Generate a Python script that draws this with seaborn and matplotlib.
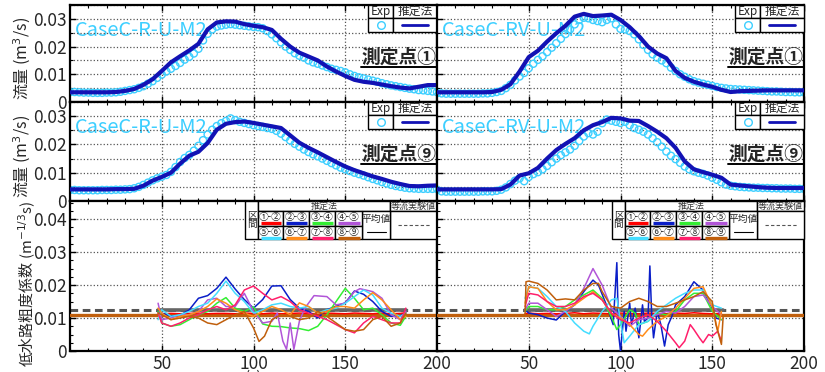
import numpy as np
import matplotlib
matplotlib.use("Agg")
import matplotlib.pyplot as plt
import seaborn as sns
from matplotlib.patches import Rectangle
from matplotlib.ticker import MultipleLocator, FixedLocator, FixedFormatter

# ---- data: discharge (m3/s), Exp every 2.5 s, estimate every 5 s ----
t_exp = np.arange(0, 200.1, 2.5)
t_est = np.arange(0, 200.1, 5)

exp_r_1 = [0.0036, 0.0036, 0.0035, 0.0034, 0.0034, 0.0033, 0.0033, 0.0033, 0.0034, 0.0034,
           0.0035, 0.0037, 0.0040, 0.0043, 0.0046, 0.0051, 0.0057, 0.0066, 0.0075, 0.0087,
           0.0099, 0.0110, 0.0120, 0.0130, 0.0141, 0.0153, 0.0163, 0.0175, 0.0192, 0.0222,
           0.0246, 0.0262, 0.0272, 0.0276, 0.0279, 0.0281, 0.0279, 0.0277, 0.0275, 0.0273,
           0.0271, 0.0270, 0.0266, 0.0256, 0.0244, 0.0230, 0.0215, 0.0200, 0.0188, 0.0176,
           0.0167, 0.0160, 0.0150, 0.0143, 0.0138, 0.0132, 0.0126, 0.0120, 0.0116, 0.0112,
           0.0107, 0.0100, 0.0094, 0.0089, 0.0085, 0.0081, 0.0077, 0.0073, 0.0068, 0.0064,
           0.0060, 0.0057, 0.0054, 0.0051, 0.0048, 0.0046, 0.0043, 0.0042, 0.0040, 0.0038,
           0.0036]
est_r_1 = [0.0035, 0.0035, 0.0035, 0.0035, 0.0035, 0.0036, 0.0040, 0.0047, 0.0062, 0.0082,
           0.0112, 0.0143, 0.0165, 0.0186, 0.0210, 0.0262, 0.0287, 0.0291, 0.0290, 0.0281,
           0.0275, 0.0270, 0.0260, 0.0228, 0.0200, 0.0178, 0.0164, 0.0150, 0.0128, 0.0110,
           0.0094, 0.0080, 0.0073, 0.0069, 0.0063, 0.0057, 0.0052, 0.0049, 0.0055, 0.0061,
           0.0061]

exp_r_9 = [0.0039, 0.0039, 0.0038, 0.0038, 0.0038, 0.0038, 0.0038, 0.0039, 0.0039, 0.0039,
           0.0040, 0.0040, 0.0041, 0.0042, 0.0045, 0.0050, 0.0057, 0.0065, 0.0073, 0.0080,
           0.0086, 0.0092, 0.0103, 0.0120, 0.0138, 0.0152, 0.0163, 0.0178, 0.0195, 0.0215,
           0.0235, 0.0252, 0.0265, 0.0275, 0.0283, 0.0292, 0.0286, 0.0280, 0.0276, 0.0272,
           0.0268, 0.0265, 0.0262, 0.0258, 0.0255, 0.0248, 0.0238, 0.0226, 0.0214, 0.0202,
           0.0192, 0.0182, 0.0173, 0.0165, 0.0158, 0.0150, 0.0142, 0.0134, 0.0126, 0.0118,
           0.0112, 0.0106, 0.0100, 0.0095, 0.0090, 0.0084, 0.0078, 0.0073, 0.0067, 0.0062,
           0.0057, 0.0053, 0.0050, 0.0047, 0.0045, 0.0044, 0.0043, 0.0043, 0.0043, 0.0043,
           0.0043]
est_r_9 = [0.0041, 0.0041, 0.0041, 0.0041, 0.0041, 0.0042, 0.0042, 0.0043, 0.0054, 0.0072,
           0.0085, 0.0100, 0.0132, 0.0160, 0.0174, 0.0205, 0.0252, 0.0273, 0.0279, 0.0281,
           0.0276, 0.0270, 0.0264, 0.0258, 0.0232, 0.0206, 0.0188, 0.0172, 0.0155, 0.0138,
           0.0122, 0.0109, 0.0098, 0.0087, 0.0078, 0.0068, 0.0060, 0.0053, 0.0052, 0.0054,
           0.0055]

exp_rv_1 = [0.0032, 0.0031, 0.0030, 0.0030, 0.0030, 0.0030, 0.0030, 0.0030, 0.0030, 0.0030,
            0.0031, 0.0031, 0.0033, 0.0036, 0.0040, 0.0050, 0.0062, 0.0078, 0.0092, 0.0105,
            0.0122, 0.0138, 0.0152, 0.0165, 0.0180, 0.0196, 0.0212, 0.0228, 0.0245, 0.0262,
            0.0280, 0.0296, 0.0304, 0.0302, 0.0296, 0.0292, 0.0288, 0.0296, 0.0302, 0.0280,
            0.0264, 0.0262, 0.0256, 0.0244, 0.0226, 0.0206, 0.0188, 0.0172, 0.0160, 0.0150,
            0.0140, 0.0124, 0.0112, 0.0100, 0.0091, 0.0082, 0.0075, 0.0070, 0.0066, 0.0062,
            0.0058, 0.0054, 0.0051, 0.0049, 0.0047, 0.0046, 0.0045, 0.0044, 0.0043, 0.0042,
            0.0041, 0.0040, 0.0039, 0.0038, 0.0038, 0.0037, 0.0036, 0.0036, 0.0035, 0.0035,
            0.0035]
est_rv_1 = [0.0035, 0.0035, 0.0035, 0.0035, 0.0035, 0.0035, 0.0036, 0.0044, 0.0064, 0.0110,
            0.0162, 0.0185, 0.0218, 0.0248, 0.0275, 0.0308, 0.0318, 0.0310, 0.0312, 0.0315,
            0.0296, 0.0270, 0.0238, 0.0200, 0.0175, 0.0158, 0.0112, 0.0087, 0.0073, 0.0063,
            0.0055, 0.0044, 0.0036, 0.0039, 0.0040, 0.0041, 0.0042, 0.0042, 0.0042, 0.0042,
            0.0042]

exp_rv_9 = [0.0040, 0.0034, 0.0033, 0.0033, 0.0033, 0.0033, 0.0033, 0.0033, 0.0033, 0.0033,
            0.0034, 0.0034, 0.0034, 0.0036, 0.0040, 0.0048, 0.0060, 0.0072, 0.0080, 0.0070,
            0.0085, 0.0095, 0.0102, 0.0112, 0.0124, 0.0137, 0.0150, 0.0162, 0.0172, 0.0182,
            0.0195, 0.0212, 0.0228, 0.0240, 0.0235, 0.0245, 0.0275, 0.0288, 0.0284, 0.0280,
            0.0276, 0.0280, 0.0268, 0.0258, 0.0252, 0.0245, 0.0235, 0.0222, 0.0208, 0.0192,
            0.0175, 0.0160, 0.0148, 0.0135, 0.0122, 0.0112, 0.0105, 0.0100, 0.0096, 0.0090,
            0.0082, 0.0075, 0.0066, 0.0058, 0.0054, 0.0052, 0.0050, 0.0049, 0.0048, 0.0047,
            0.0047, 0.0046, 0.0046, 0.0045, 0.0045, 0.0044, 0.0044, 0.0044, 0.0043, 0.0043,
            0.0043]
est_rv_9 = [0.0041, 0.0041, 0.0041, 0.0041, 0.0041, 0.0041, 0.0041, 0.0042, 0.0058, 0.0090,
            0.0098, 0.0117, 0.0150, 0.0180, 0.0202, 0.0222, 0.0250, 0.0268, 0.0279, 0.0294,
            0.0292, 0.0284, 0.0283, 0.0265, 0.0245, 0.0222, 0.0188, 0.0140, 0.0112, 0.0102,
            0.0093, 0.0082, 0.0058, 0.0055, 0.0052, 0.0049, 0.0047, 0.0046, 0.0046, 0.0046,
            0.0046]

# ---- data: roughness coefficient per section ----
sections = ["①-②", "②-③", "③-④", "④-⑤", "⑤-⑥", "⑥-⑦", "⑦-⑧", "⑧-⑨"]
sec_colors = ["#ff0000", "#0a1ec8", "#33ee33", "#b155d8", "#44ddff", "#ff8c1a", "#ff1f6b", "#c05f0c"]

tl = [48, 50, 55, 60, 65, 70, 75, 80, 85, 90, 95, 100, 105, 110, 115, 120, 125, 130, 135, 140,
      145, 150, 155, 160, 165, 170, 175, 180, 183]
n_l_12 = [0.0116, 0.0113, 0.0114, 0.0113, 0.0114, 0.0115, 0.0113, 0.0114, 0.0114, 0.0113,
          0.0115, 0.0114, 0.0113, 0.0115, 0.0113, 0.0114, 0.0115, 0.0114, 0.0113, 0.0115,
          0.0114, 0.0113, 0.0115, 0.0114, 0.0113, 0.0115, 0.0113, 0.0114, 0.0116]
n_l_23 = [0.0120, 0.0115, 0.0106, 0.0108, 0.0125, 0.0160, 0.0168, 0.0190, 0.0224, 0.0188,
          0.0156, 0.0130, 0.0156, 0.0197, 0.0198, 0.0156, 0.0130, 0.0120, 0.0100, 0.0125,
          0.0136, 0.0146, 0.0182, 0.0172, 0.0150, 0.0120, 0.0105, 0.0107, 0.0115]
n_l_34 = [0.0120, 0.0085, 0.0075, 0.0080, 0.0095, 0.0110, 0.0120, 0.0145, 0.0162, 0.0130,
          0.0120, 0.0134, 0.0082, 0.0075, 0.0074, 0.0070, 0.0068, 0.0062, 0.0075, 0.0110,
          0.0150, 0.0190, 0.0160, 0.0125, 0.0130, 0.0110, 0.0085, 0.0078, 0.0105]
tl_45 = [48, 50, 55, 60, 65, 70, 75, 80, 85, 90, 95, 100, 105, 110, 113, 116, 118, 120, 122, 125,
         128, 133, 140, 145, 150, 155, 158, 165, 170, 175, 180, 183]
n_l_45 = [0.0145, 0.0095, 0.0100, 0.0110, 0.0110, 0.0120, 0.0155, 0.0160, 0.0135, 0.0135,
          0.0175, 0.0120, 0.0085, 0.0090, 0.0115, 0.0030, 0.0005, 0.0085, 0.0005, 0.0090,
          0.0130, 0.0168, 0.0165, 0.0140, 0.0145, 0.0180, 0.0189, 0.0180, 0.0160, 0.0110,
          0.0095, 0.0120]
n_l_56 = [0.0095, 0.0125, 0.0105, 0.0110, 0.0120, 0.0135, 0.0145, 0.0175, 0.0212, 0.0175,
          0.0150, 0.0115, 0.0125, 0.0140, 0.0145, 0.0135, 0.0130, 0.0135, 0.0115, 0.0125,
          0.0130, 0.0145, 0.0165, 0.0185, 0.0170, 0.0130, 0.0115, 0.0105, 0.0115]
n_l_67 = [0.0130, 0.0115, 0.0095, 0.0105, 0.0110, 0.0120, 0.0135, 0.0158, 0.0145, 0.0125,
          0.0115, 0.0105, 0.0120, 0.0135, 0.0125, 0.0110, 0.0146, 0.0135, 0.0115, 0.0120,
          0.0135, 0.0135, 0.0130, 0.0155, 0.0177, 0.0155, 0.0125, 0.0095, 0.0105]
n_l_78 = [0.0115, 0.0085, 0.0075, 0.0085, 0.0100, 0.0110, 0.0125, 0.0135, 0.0125, 0.0140,
          0.0185, 0.0197, 0.0175, 0.0155, 0.0165, 0.0150, 0.0125, 0.0115, 0.0105, 0.0095,
          0.0080, 0.0065, 0.0055, 0.0085, 0.0105, 0.0095, 0.0085, 0.0085, 0.0130]
tl_89 = [48, 50, 55, 60, 65, 70, 75, 80, 85, 90, 95, 100, 103, 106, 110, 115, 120, 125, 130, 135,
         140, 145, 150, 155, 160, 165, 170, 175, 180, 183]
n_l_89 = [0.0115, 0.0110, 0.0095, 0.0100, 0.0105, 0.0100, 0.0085, 0.0080, 0.0095, 0.0110,
          0.0120, 0.0070, 0.0029, 0.0045, 0.0095, 0.0110, 0.0105, 0.0095, 0.0100, 0.0120,
          0.0105, 0.0085, 0.0065, 0.0060, 0.0065, 0.0095, 0.0105, 0.0075, 0.0085, 0.0115]

tr = [48, 50, 55, 60, 65, 70, 75, 80, 85, 90, 95, 100, 105, 110, 115, 120, 125, 130, 135, 140,
      145, 150, 155]
n_r_12 = [0.0113, 0.0115, 0.0113, 0.0114, 0.0113, 0.0114, 0.0116, 0.0113, 0.0115, 0.0114,
          0.0113, 0.0115, 0.0114, 0.0113, 0.0115, 0.0114, 0.0113, 0.0115, 0.0114, 0.0116,
          0.0114, 0.0113, 0.0114]
tr_23 = [48, 50, 55, 60, 65, 70, 75, 80, 85, 88, 93, 96, 98, 99, 100, 102, 103, 105, 106, 108,
         110, 112, 113, 115, 116, 117, 118, 120, 122, 124, 126, 128, 130, 135, 140, 145, 150, 152, 155]
n_r_23 = [0.0125, 0.0115, 0.0110, 0.0100, 0.0094, 0.0120, 0.0140, 0.0180, 0.0215, 0.0200,
          0.0130, 0.0080, 0.0268, 0.0050, 0.0000, 0.0120, 0.0060, 0.0145, 0.0080, 0.0130,
          0.0040, 0.0140, 0.0090, 0.0100, 0.0258, 0.0110, 0.0040, 0.0120, 0.0080, 0.0015,
          0.0080, 0.0105, 0.0140, 0.0165, 0.0210, 0.0185, 0.0130, 0.0100, 0.0095]
tr_34 = [48, 50, 55, 60, 65, 70, 75, 80, 85, 90, 93, 95, 98, 100, 105, 108, 110, 115, 120, 125,
         130, 135, 140, 145, 150, 155]
n_r_34 = [0.0120, 0.0135, 0.0135, 0.0125, 0.0125, 0.0135, 0.0155, 0.0170, 0.0185, 0.0160,
          0.0125, 0.0105, 0.0065, 0.0080, 0.0125, 0.0115, 0.0080, 0.0090, 0.0115, 0.0110,
          0.0120, 0.0155, 0.0175, 0.0175, 0.0120, 0.0095]
n_r_45 = [0.0125, 0.0145, 0.0145, 0.0125, 0.0105, 0.0120, 0.0140, 0.0190, 0.0250, 0.0200,
          0.0130, 0.0105, 0.0075, 0.0095, 0.0100, 0.0110, 0.0120, 0.0115, 0.0135, 0.0165,
          0.0170, 0.0135, 0.0110]
tr_56 = [48, 50, 55, 60, 65, 70, 75, 80, 83, 85, 90, 95, 98, 100, 102, 105, 110, 115, 120, 125,
         130, 135, 140, 145, 150, 155]
n_r_56 = [0.0160, 0.0195, 0.0190, 0.0165, 0.0135, 0.0120, 0.0085, 0.0060, 0.0052, 0.0075,
          0.0120, 0.0155, 0.0160, 0.0090, 0.0025, 0.0045, 0.0080, 0.0090, 0.0120, 0.0140,
          0.0160, 0.0175, 0.0185, 0.0185, 0.0140, 0.0130]
tr_67 = [48, 50, 55, 60, 65, 70, 75, 80, 85, 90, 95, 100, 105, 110, 112, 115, 120, 125, 130, 135,
         140, 145, 150, 153, 155]
n_r_67 = [0.0145, 0.0195, 0.0190, 0.0150, 0.0125, 0.0125, 0.0140, 0.0160, 0.0180, 0.0155,
          0.0115, 0.0100, 0.0080, 0.0050, 0.0045, 0.0065, 0.0090, 0.0105, 0.0130, 0.0160,
          0.0190, 0.0195, 0.0135, 0.0060, 0.0120]
tr_78 = [48, 50, 55, 60, 65, 70, 75, 80, 85, 90, 95, 100, 105, 110, 115, 120, 125, 130, 132, 135,
         138, 140, 143, 145, 148, 150, 153, 155]
n_r_78 = [0.0135, 0.0175, 0.0170, 0.0150, 0.0135, 0.0135, 0.0145, 0.0165, 0.0175, 0.0155,
          0.0115, 0.0095, 0.0085, 0.0100, 0.0110, 0.0090, 0.0060, 0.0025, 0.0010, 0.0030,
          0.0080, 0.0065, 0.0040, 0.0025, 0.0050, 0.0045, 0.0060, 0.0030]
tr_89 = [48, 48.5, 50, 55, 60, 65, 70, 75, 80, 85, 88, 90, 95, 100, 105, 110, 115, 120, 125, 130,
         135, 140, 145, 150, 152, 155, 156]
n_r_89 = [0.0110, 0.0210, 0.0212, 0.0205, 0.0185, 0.0155, 0.0158, 0.0155, 0.0185, 0.0205,
          0.0205, 0.0180, 0.0135, 0.0130, 0.0150, 0.0160, 0.0150, 0.0135, 0.0135, 0.0145,
          0.0155, 0.0165, 0.0180, 0.0150, 0.0080, 0.0020, 0.0110]

n_uniform = 0.0124   # 等流実験値
n_mean = 0.0123
n_mean_89 = 0.0110

CYAN = "#3dcfff"
BLUE = "#1212b4"
W = 367.0  # axes width in px

sns.set_style("white")
plt.rcParams["font.family"] = ["Liberation Sans Narrow", "Noto Sans CJK JP", "DejaVu Sans"]
plt.rcParams["axes.unicode_minus"] = False

fig = plt.figure(figsize=(8.25, 3.72), dpi=100)
x_left, x_right, aw = 70 / 825, 437 / 825, 367 / 825
rows = [(1 - 102 / 372, 97 / 372, 97), (1 - 201 / 372, 99 / 372, 99), (1 - 351 / 372, 150 / 372, 150)]


def box(ax, x0, y0, x1, y1, h, lw=1.0):
    ax.add_patch(Rectangle((x0 / W, 1 - y1 / h), (x1 - x0) / W, (y1 - y0) / h,
                           transform=ax.transAxes, fc="white", ec="black", lw=lw,
                           zorder=5, clip_on=False))


def txt(ax, x, y, s, h, **kw):
    ax.text(x / W, 1 - y / h, s, transform=ax.transAxes, ha="center", va="center", zorder=6, **kw)


def seg(ax, x0, x1, y, h, **kw):
    ax.plot([x0 / W, x1 / W], [1 - y / h, 1 - y / h], transform=ax.transAxes,
            zorder=6, clip_on=False, **kw)


def style(ax, show_x, show_y, yticks, ylabels, minor_y, grid_minor):
    ax.set_xlim(0, 200)
    ax.xaxis.set_major_locator(FixedLocator([50, 100, 150, 200]))
    ax.xaxis.set_minor_locator(MultipleLocator(10))
    ax.yaxis.set_major_locator(FixedLocator(yticks))
    ax.yaxis.set_major_formatter(FixedFormatter(ylabels))
    ax.yaxis.set_minor_locator(MultipleLocator(minor_y))
    ax.tick_params(which="both", direction="in", top=True, bottom=True, left=True, right=False,
                   labelsize=12.5, pad=2, color="black")
    ax.tick_params(which="major", length=4, width=1)
    ax.tick_params(which="minor", length=2.5, width=0.8)
    ax.tick_params(axis="x", labelbottom=show_x, pad=3)
    ax.tick_params(axis="y", labelleft=show_y)
    ax.grid(True, which="major", color="#555555", ls=":", lw=0.9)
    if grid_minor:
        ax.grid(True, which="minor", axis="y", color="#555555", ls=":", lw=0.9)
    ax.set_axisbelow("line")
    for sp in ax.spines.values():
        sp.set_color("black")
        sp.set_linewidth(1.6)
    ax.set_xlabel("")
    ax.set_ylabel("")


def flow_panel(ax, h, q_exp, q_est, case, point, show_y):
    ax.set_ylim(0, 0.035)
    sns.scatterplot(x=t_exp, y=q_exp, ax=ax, marker="o", s=26, color=CYAN,
                    facecolors="none", edgecolor=CYAN, linewidth=1.0, zorder=2.5)
    sns.lineplot(x=t_est, y=q_est, ax=ax, color=BLUE, lw=3.0, zorder=3)
    style(ax, False, show_y, [0, 0.01, 0.02, 0.03], ["0", "0.01", "0.02", "0.03"], 0.005, True)
    ax.text(5 / W, 1 - 25.5 / h, case, transform=ax.transAxes, color=CYAN, fontsize=14.5,
            ha="left", va="center", zorder=1)
    ax.text(366 / W, 1 - 52 / h, point, transform=ax.transAxes, fontsize=13.5,
            fontweight="bold", ha="right", va="center", zorder=6,
            family=["Noto Sans CJK JP", "DejaVu Sans"])
    seg(ax, 291, 367, 61.5, h, color="black", lw=1.4)
    # small legend table
    box(ax, 298, 0, 323, 12.5, h)
    box(ax, 323, 0, 367, 12.5, h)
    box(ax, 298, 12.5, 323, 26.5, h)
    box(ax, 323, 12.5, 367, 26.5, h)
    txt(ax, 310.5, 6.5, "Exp", h, fontsize=8.5)
    txt(ax, 345, 6.5, "推定法", h, fontsize=8.5)
    ax.plot([310.5 / W], [1 - 19.5 / h], transform=ax.transAxes, marker="o", ms=5.5,
            mfc="none", mec=CYAN, mew=1.0, zorder=7, clip_on=False)
    seg(ax, 332, 358, 19.5, h, color=BLUE, lw=2.0)


def rough_panel(ax, h, series, t0, t1, show_y):
    ax.set_ylim(0, 0.0455)
    ax.axhline(n_uniform, color="#555555", lw=2.2, ls=(0, (2.5, 1.5)), zorder=2)
    sns.lineplot(x=[t0, t1], y=[n_mean, n_mean], ax=ax, color="#666666", lw=2.6, zorder=2.2)
    for (tt, vv), c in zip(series, sec_colors):
        sns.lineplot(x=tt, y=vv, ax=ax, color=c, lw=1.1, zorder=3)
    ax.axhline(n_mean_89, color=sec_colors[7], lw=2.4, zorder=2.9)
    style(ax, True, show_y, [0, 0.01, 0.02, 0.03, 0.04], ["0", "0.01", "0.02", "0.03", "0.04"],
          0.0025, False)
    # legend table
    fs = 7
    box(ax, 175, 0, 188, 38, h)
    box(ax, 188, 0, 320, 10, h)
    box(ax, 320, 0, 367, 10, h)
    box(ax, 320, 10, 367, 38, h)
    box(ax, 292, 10, 320, 38, h)
    txt(ax, 254, 5, "推定法", h, fontsize=6.5, color="#333333")
    txt(ax, 343.5, 5, "等流実験値", h, fontsize=6.5, color="#333333")
    txt(ax, 181.5, 15, "区", h, fontsize=fs)
    txt(ax, 181.5, 23, "間", h, fontsize=fs)
    cols = [188, 213, 239, 265, 292]
    for i in range(8):
        r, k = divmod(i, 4)
        x0, x1 = cols[k], cols[k + 1]
        y0 = 10 if r == 0 else 25
        box(ax, x0, y0, x1, y0 + (15 if r == 0 else 13), h)
        txt(ax, (x0 + x1) / 2, y0 + 5.5, sections[i], h, fontsize=fs)
        seg(ax, x0 + 2.5, x1 - 2.5, y0 + 11.5, h, color=sec_colors[i], lw=2.4, solid_capstyle="butt")
    txt(ax, 306, 18, "平均値", h, fontsize=fs)
    seg(ax, 297, 316, 31, h, color="black", lw=0.8)
    seg(ax, 328, 360, 24, h, color="#555555", lw=0.8, ls=(0, (3, 2)))


ax1 = fig.add_axes([x_left, rows[0][0], aw, rows[0][1]])
ax2 = fig.add_axes([x_right, rows[0][0], aw, rows[0][1]])
ax3 = fig.add_axes([x_left, rows[1][0], aw, rows[1][1]])
ax4 = fig.add_axes([x_right, rows[1][0], aw, rows[1][1]])
ax5 = fig.add_axes([x_left, rows[2][0], aw, rows[2][1]])
ax6 = fig.add_axes([x_right, rows[2][0], aw, rows[2][1]])

flow_panel(ax1, 97, exp_r_1, est_r_1, "CaseC-R-U-M2", "測定点①", True)
flow_panel(ax2, 97, exp_rv_1, est_rv_1, "CaseC-RV-U-M2", "測定点①", False)
flow_panel(ax3, 99, exp_r_9, est_r_9, "CaseC-R-U-M2", "測定点⑨", True)
flow_panel(ax4, 99, exp_rv_9, est_rv_9, "CaseC-RV-U-M2", "測定点⑨", False)

left_series = [(tl, n_l_12), (tl, n_l_23), (tl, n_l_34), (tl_45, n_l_45),
               (tl, n_l_56), (tl, n_l_67), (tl, n_l_78), (tl_89, n_l_89)]
right_series = [(tr, n_r_12), (tr_23, n_r_23), (tr_34, n_r_34), (tr, n_r_45),
                (tr_56, n_r_56), (tr_67, n_r_67), (tr_78, n_r_78), (tr_89, n_r_89)]
rough_panel(ax5, 150, left_series, 48, 183, True)
rough_panel(ax6, 150, right_series, 48, 156, False)

# y labels
fig.text(22 / 825, 1 - 58 / 372, "流量 (m$^3$/s)", rotation=90, ha="center", va="center", fontsize=11.5)
fig.text(22 / 825, 1 - 156 / 372, "流量 (m$^3$/s)", rotation=90, ha="center", va="center", fontsize=11.5)
fig.text(27 / 825, 1 - 284 / 372, "低水路粗度係数 (m$^{-1/3}$s)", rotation=90, ha="center",
         va="center", fontsize=10.8)
# x labels sit below the figure edge, only their tops show
fig.text(253.5 / 825, 2.5 / 372, "(s)", ha="center", va="top", fontsize=11)
fig.text(620.5 / 825, 2.5 / 372, "(s)", ha="center", va="top", fontsize=11)

fig.savefig("out.png", dpi=100)
